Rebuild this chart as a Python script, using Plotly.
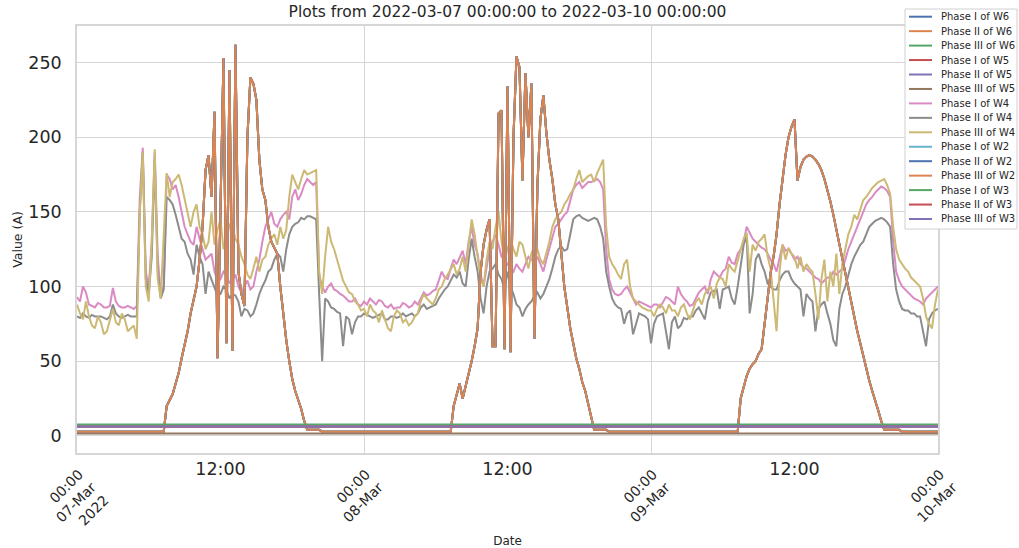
import pandas as pd
import plotly.graph_objects as go

# 15 minute time grid, plus a two point grid for the flat series
t_15 = pd.date_range("2022-03-07 00:00", "2022-03-10 00:00", freq="15min")
t_flat = pd.to_datetime(["2022-03-07 00:00", "2022-03-10 00:00"])

day_ticks = pd.to_datetime(["2022-03-07", "2022-03-08", "2022-03-09", "2022-03-10"])
day_labels = ["00:00<br>07-Mar<br>2022", "00:00<br>08-Mar", "00:00<br>09-Mar", "00:00<br>10-Mar"]
noon_ticks = pd.to_datetime(["2022-03-07 12:00", "2022-03-08 12:00", "2022-03-09 12:00"])
noon_labels = ["12:00", "12:00", "12:00"]

# W6 / W2 phases (PV-like curves, almost identical)
solar = [
    # 07-Mar
    2.8, 2.8, 2.8, 2.8, 2.8, 2.8, 2.8, 2.8, 2.8, 2.8, 2.8, 2.8, 2.8, 2.8, 2.8,
    2.8, 2.8, 2.8, 2.8, 2.8, 2.8, 2.8, 2.8, 2.8, 2.8, 2.8, 2.8, 2.8, 2.8, 2.8,
    20, 24, 28, 35, 42, 52, 60, 70, 82, 92, 100, 118, 140, 178, 188, 160,
    217, 52, 150, 253, 62, 245, 57, 262, 110, 95, 87, 200, 240, 236, 225, 185,
    165, 158, 140, 130, 126, 122, 100, 80, 64, 50, 38, 30, 24, 18, 10, 4,
    4, 4, 4, 4,
    2.8, 2.8, 2.8, 2.8, 2.8, 2.8, 2.8, 2.8, 2.8, 2.8, 2.8, 2.8, 2.8, 2.8,
    # 08-Mar
    2.8, 2.8, 2.8, 2.8, 2.8, 2.8, 2.8, 2.8, 2.8, 2.8, 2.8, 2.8, 2.8, 2.8, 2.8,
    2.8, 2.8, 2.8, 2.8, 2.8, 2.8, 2.8, 2.8, 2.8, 2.8, 2.8, 2.8, 2.8, 2.8, 2.8,
    20, 28, 35, 25, 33, 40, 50, 60, 72, 110, 128, 138, 145, 60, 60, 216,
    218, 58, 234, 56, 200, 254, 247, 171, 243, 200, 236, 65, 167, 212, 228, 203,
    185, 172, 155, 145, 125, 100, 86, 72, 62, 52, 45, 36, 30, 22, 12, 4,
    4, 4, 4, 4,
    2.8, 2.8, 2.8, 2.8, 2.8, 2.8, 2.8, 2.8, 2.8, 2.8, 2.8, 2.8, 2.8, 2.8,
    # 09-Mar
    2.8, 2.8, 2.8, 2.8, 2.8, 2.8, 2.8, 2.8, 2.8, 2.8, 2.8, 2.8, 2.8, 2.8, 2.8,
    2.8, 2.8, 2.8, 2.8, 2.8, 2.8, 2.8, 2.8, 2.8, 2.8, 2.8, 2.8, 2.8, 2.8, 2.8,
    25, 32, 40, 45, 48, 50, 55, 58, 75, 90, 109, 120, 135, 155, 172, 188,
    200, 207, 212, 171, 180, 185, 187, 188, 187, 185, 182, 178, 172, 165, 157, 148,
    138, 130, 120, 110, 100, 90, 80, 70, 62, 53, 45, 37, 30, 24, 17, 10, 4,
    4, 4, 4, 4, 4,
    2.8, 2.8, 2.8, 2.8, 2.8, 2.8, 2.8, 2.8, 2.8, 2.8, 2.8, 2.8, 2.8,
]

# W4 phases
w4_phase1 = [
    # 07-Mar
    93, 90, 100, 96, 88, 87, 86, 89, 88, 86, 86, 87, 99, 90, 87, 86,
    86, 87, 86, 85, 87, 160, 193, 110, 100, 130, 190, 120, 95, 100, 175, 172,
    165, 168, 160, 150, 140, 135, 130, 128, 140, 132, 125, 118, 120, 122, 110, 104,
    105, 110, 108, 102, 105, 108, 100, 96, 100, 104, 98, 100, 110, 118, 130, 140,
    145, 150, 142, 140, 145, 148, 150, 145, 160, 165, 158, 162, 168, 172, 170, 168,
    170, 108, 100, 96, 100, 102, 98, 97, 95, 94, 92, 90, 90, 92, 88, 87,
    # 08-Mar
    90, 88, 92, 90, 88, 91, 90, 87, 86, 88, 85, 86, 86, 89, 88, 86,
    87, 90, 88, 92, 96, 94, 95, 97, 98, 104, 110, 106, 105, 112, 118, 115,
    120, 124, 115, 130, 140, 128, 122, 108, 100, 112, 125, 130, 135, 128, 120, 118,
    115, 112, 110, 115, 112, 110, 115, 120, 118, 116, 120, 115, 110, 118, 125, 132,
    140, 142, 145, 148, 150, 158, 165, 168, 170, 166, 168, 170, 170, 171, 172, 170,
    165, 125, 105, 98, 95, 94, 95, 98, 100, 96, 92, 88, 90, 89, 88, 87,
    # 09-Mar
    86, 88, 88, 86, 90, 93, 92, 90, 88, 100, 95, 92, 90, 87, 88, 92,
    96, 98, 100, 95, 105, 110, 108, 106, 110, 112, 120, 116, 115, 122, 125, 130,
    140, 136, 132, 130, 128, 126, 125, 122, 118, 115, 110, 118, 128, 124, 125, 122,
    118, 120, 115, 113, 112, 110, 108, 106, 105, 102, 104, 106, 106, 110, 108, 110,
    112, 118, 125, 130, 135, 140, 145, 150, 155, 158, 160, 163, 165, 167, 166, 164,
    160, 130, 110, 104, 100, 98, 96, 94, 92, 91, 90, 88, 92, 94, 96, 98, 100,
]
w4_phase2 = [
    # 07-Mar
    80, 79, 82, 80, 79, 81, 80, 80, 80, 79, 78, 80, 88, 82, 80, 79,
    80, 81, 80, 80, 80, 150, 190, 105, 95, 120, 185, 110, 92, 98, 160, 158,
    155, 148, 140, 132, 130, 122, 118, 108, 128, 120, 115, 95, 110, 105, 100, 94,
    95, 100, 98, 92, 95, 94, 90, 80, 85, 84, 80, 82, 88, 95, 100, 104,
    110, 112, 118, 122, 120, 110, 125, 135, 140, 142, 143, 146, 145, 147, 147, 146,
    145, 95, 50, 92, 90, 86, 85, 83, 82, 60, 80, 78, 68, 76, 80, 80,
    # 08-Mar
    82, 81, 80, 79, 80, 81, 82, 78, 78, 80, 80, 79, 80, 82, 80, 81,
    82, 80, 82, 86, 88, 85, 86, 87, 88, 92, 95, 98, 100, 104, 108, 106,
    110, 102, 100, 118, 132, 120, 110, 92, 82, 100, 110, 112, 115, 108, 105, 98,
    110, 100, 95, 88, 86, 80, 85, 88, 90, 94, 96, 92, 95, 100, 105, 112,
    120, 125, 127, 124, 125, 135, 145, 147, 148, 146, 145, 144, 145, 146, 145, 140,
    132, 110, 100, 92, 88, 86, 85, 75, 82, 84, 68, 75, 82, 81, 80, 78,
    # 09-Mar
    62, 75, 80, 81, 82, 70, 58, 76, 80, 72, 74, 79, 78, 80, 80, 84,
    86, 82, 78, 90, 96, 97, 98, 85, 98, 99, 100, 92, 88, 100, 115, 128,
    134, 82, 95, 118, 122, 115, 110, 102, 100, 98, 98, 104, 108, 110, 110, 105,
    102, 100, 98, 80, 95, 92, 90, 70, 85, 88, 90, 82, 75, 64, 60, 85,
    95, 100, 108, 115, 120, 124, 128, 130, 135, 140, 142, 144, 145, 146, 145, 143,
    140, 115, 98, 90, 85, 84, 84, 82, 82, 80, 80, 70, 60, 78, 82, 84, 85,
]
w4_phase3 = [
    # 07-Mar
    88, 82, 78, 90, 80, 74, 72, 80, 76, 68, 70, 78, 85, 76, 74, 82,
    78, 70, 72, 74, 65, 150, 190, 100, 90, 130, 192, 105, 92, 140, 176, 160,
    170, 172, 175, 168, 158, 148, 140, 150, 155, 140, 135, 125, 130, 150, 128, 138,
    145, 125, 130, 142, 140, 132, 128, 120, 115, 108, 105, 112, 120, 110, 118, 120,
    128, 132, 135, 128, 140, 132, 138, 160, 175, 170, 165, 172, 178, 175, 176, 177,
    178, 110, 95, 120, 140, 130, 125, 118, 110, 104, 100, 96, 95, 90, 88, 84,
    # 08-Mar
    85, 80, 88, 84, 82, 76, 84, 78, 72, 70, 80, 84, 82, 76, 78, 74,
    76, 80, 82, 90, 95, 92, 90, 88, 92, 98, 100, 105, 108, 112, 115, 108,
    112, 120, 110, 128, 145, 135, 120, 105, 100, 118, 130, 125, 140, 150, 130, 118,
    125, 132, 125, 120, 130, 128, 120, 112, 122, 128, 125, 118, 115, 122, 130, 140,
    145, 148, 150, 155, 158, 162, 165, 172, 178, 170, 172, 174, 175, 170, 176, 180,
    185, 140, 120, 115, 112, 108, 105, 115, 118, 100, 92, 90, 88, 86, 85, 84,
    # 09-Mar
    84, 80, 85, 88, 86, 82, 88, 84, 84, 80, 86, 88, 82, 78, 84, 90,
    92, 88, 95, 98, 100, 92, 102, 106, 105, 100, 115, 112, 110, 118, 125, 132,
    136, 110, 128, 124, 130, 132, 135, 120, 112, 90, 70, 110, 128, 118, 126, 122,
    120, 112, 120, 110, 115, 112, 110, 95, 78, 105, 118, 90, 110, 100, 122, 95,
    115, 125, 135, 140, 148, 145, 152, 158, 160, 163, 166, 168, 170, 171, 172, 168,
    162, 140, 125, 118, 115, 112, 110, 106, 104, 102, 100, 92, 80, 75, 72, 88, 98,
]

# W5 / W3 phases (flat, near zero)
w5_phase1 = [6.3, 6.3]
w5_phase2 = [6.3, 6.3]
w5_phase3 = [1.6, 1.6]
w3_phase1 = [7.6, 7.6]
w3_phase2 = [6.3, 6.3]
w3_phase3 = [6.3, 6.3]

series = [
    ("Phase I of W6", t_15, solar, "#4c72b0"),
    ("Phase II of W6", t_15, solar, "#dd8452"),
    ("Phase III of W6", t_15, solar, "#55a868"),
    ("Phase I of W5", t_flat, w5_phase1, "#c44e52"),
    ("Phase II of W5", t_flat, w5_phase2, "#8172b3"),
    ("Phase III of W5", t_flat, w5_phase3, "#937860"),
    ("Phase I of W4", t_15, w4_phase1, "#da8bc3"),
    ("Phase II of W4", t_15, w4_phase2, "#8c8c8c"),
    ("Phase III of W4", t_15, w4_phase3, "#ccb974"),
    ("Phase I of W2", t_15, solar, "#64b5cd"),
    ("Phase II of W2", t_15, solar, "#4c72b0"),
    ("Phase III of W2", t_15, solar, "#dd8452"),
    ("Phase I of W3", t_flat, w3_phase1, "#55a868"),
    ("Phase II of W3", t_flat, w3_phase2, "#c44e52"),
    ("Phase III of W3", t_flat, w3_phase3, "#8172b3"),
]

W, H = 1019, 548
L, R, T, B = 77, 81, 26, 95
grid = "#d6d6d6"
text_col = "#262626"


def px_x(px):
    return (px - L) / (W - L - R)


def px_y(py):
    return (H - B - py) / (H - T - B)


fig = go.Figure()
for name, tx, vals, color in series:
    fig.add_trace(go.Scatter(x=tx, y=vals, mode="lines", name=name,
                             line=dict(color=color, width=2), showlegend=False))

# invisible trace so the 12:00 axis gets drawn
fig.add_trace(go.Scatter(x=[day_ticks[0]], y=[None], xaxis="x2",
                         showlegend=False, hoverinfo="skip"))

# legend drawn as a box (matplotlib style, tight rows)
shapes = [dict(type="rect", xref="paper", yref="paper",
               x0=px_x(905), x1=px_x(1017), y0=px_y(9), y1=px_y(229),
               line=dict(color="#d0d0d0", width=1), fillcolor="white", layer="above")]
annotations = []
for i, (name, _, _, color) in enumerate(series):
    yy = px_y(16.7 + 14.45 * i)
    shapes.append(dict(type="line", xref="paper", yref="paper",
                       x0=px_x(909), x1=px_x(932), y0=yy, y1=yy,
                       line=dict(color=color, width=2), layer="above"))
    annotations.append(dict(text=name, xref="paper", yref="paper",
                            x=px_x(939), y=yy, xanchor="left", yanchor="middle",
                            showarrow=False, font=dict(size=10, color=text_col)))

fig.update_layout(
    width=W, height=H,
    font=dict(family="DejaVu Sans", color=text_col),
    plot_bgcolor="white", paper_bgcolor="white",
    margin=dict(l=L, r=R, t=T, b=B, autoexpand=False),
    showlegend=False,
    shapes=shapes, annotations=annotations,
    title=dict(text="Plots from 2022-03-07 00:00:00 to 2022-03-10 00:00:00",
               x=0.5, xref="paper", y=1 - 12 / H, yref="container", yanchor="middle",
               font=dict(size=15.5, color=text_col)),
    xaxis=dict(
        range=[day_ticks[0], day_ticks[-1]], automargin=False,
        tickvals=day_ticks, ticktext=day_labels, tickangle=-45,
        tickfont=dict(size=14), ticks="", ticklabelshift=2, ticklabelstandoff=6,
        showgrid=True, gridcolor=grid, gridwidth=1,
        showline=True, linecolor=grid, linewidth=1.5, mirror=True,
        zeroline=False,
        title=dict(text="Date", font=dict(size=12), standoff=4),
    ),
    xaxis2=dict(
        overlaying="x", matches="x", anchor="y", side="bottom", automargin=False,
        tickvals=noon_ticks, ticktext=noon_labels, tickangle=0,
        tickfont=dict(size=17.5), ticks="", ticklabelstandoff=3,
        showgrid=False, showline=False, zeroline=False,
    ),
    yaxis=dict(
        range=[-11.5, 274.5], automargin=False,
        tickvals=[0, 50, 100, 150, 200, 250],
        tickfont=dict(size=17.5), ticks="", ticklabelstandoff=10,
        showgrid=True, gridcolor=grid, gridwidth=1,
        showline=True, linecolor=grid, linewidth=1.5, mirror=True,
        zeroline=False,
        title=dict(text="Value (A)", font=dict(size=12.5), standoff=3),
    ),
)

# page body has an 8px default margin; drop it so the figure sits at the corner
fig.write_html("out.html", config={"displayModeBar": False},
               post_script="document.body.style.margin='0';")
